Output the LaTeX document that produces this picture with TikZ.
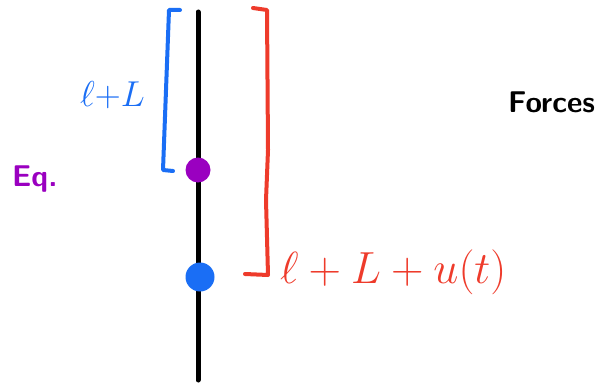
\RequirePackage{fix-cm}
\documentclass[tikz,border=0pt]{standalone}
\usepackage{xcolor}
\usepackage{amsmath}
\usepackage{tikz}
\usetikzlibrary{positioning}

\definecolor{azul}{HTML}{1A6EF5}
\definecolor{vermelho}{HTML}{EE3B2B}
\definecolor{roxo}{HTML}{9A00C0}

\begin{document}
\begin{tikzpicture}[
    x=1pt, y=-1pt,
    traco/.style={
    line width=4pt,
    line cap=round,
    line join=round
    },
    ponto/.style={
    circle,
    inner sep=0pt,
    minimum size=#1
    },
    rotulo/.style={
    inner sep=0pt,
    anchor=base west,
    font=\fontsize{30}{36}\selectfont
    }
    ]
    
    \useasboundingbox (0,0) rectangle (610,385);
    
    % haste
    \coordinate (topo) at (198,12);
    \coordinate (base) at (198,380);
    \draw[line width=5pt, line cap=round] (topo)--(base);
    
    \node[ponto=25pt, fill=roxo] (eq) at (198,170) {};
    \node[ponto=29pt, fill=azul] (massa) at (200,277) {};
    
    % colchetes
    \draw[traco, azul] (180,10)--(169,10)--(163,170)--(173,171);
    \draw[traco, vermelho] (253,8)--(267,10)--(268,150)--(266,200)--(268,275)--(245,274);
    
    \node[rotulo, text=azul, font=\fontsize{36}{42}\selectfont] (comp) at (80,107) {$\ell{+}L$};
    \node[rotulo, text=roxo] (eqtxt) at (12,186)
    {\sffamily\bfseries Eq.};
    \node[rotulo, text=vermelho, font=\fontsize{45}{54}\selectfont] (compu) at (280,283)
    {$\ell+L+u(t)$};
    \node[rotulo] (forcas) at (508,113)
    {\sffamily\bfseries Forces};
    
    \end{tikzpicture}
\end{document}
